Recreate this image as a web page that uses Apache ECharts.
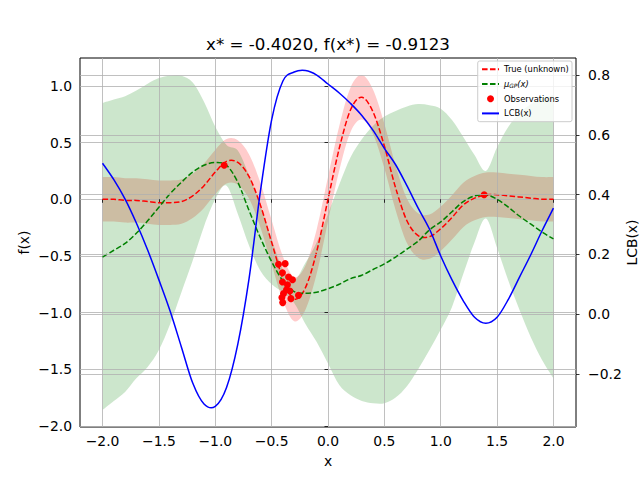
<!DOCTYPE html>
<html><head><meta charset="utf-8">
<script src="https://cdn.jsdelivr.net/npm/echarts@6/dist/echarts.min.js"></script>
<style>html,body{margin:0;padding:0;background:#fff}#c{width:640px;height:480px}</style>
</head><body><div id="c"></div>
<script>
// ---- data ----
const X = [-2.0,-1.9,-1.8,-1.7,-1.6,-1.5,-1.4,-1.3,-1.2,-1.1,-1.0,-0.9,-0.8,-0.7,-0.6,-0.5,-0.4,-0.3,-0.2,-0.1,0.0,
           0.1,0.2,0.3,0.4,0.5,0.6,0.7,0.8,0.9,1.0,1.1,1.2,1.3,1.4,1.5,1.6,1.7,1.8,1.9,2.0];
const TRUE_F = [0.00,0.00,-0.01,-0.01,-0.02,-0.03,-0.03,-0.02,0.03,0.12,0.24,0.335,0.325,0.20,-0.05,-0.38,-0.70,-0.88,-0.78,-0.46,0.00,
                0.45,0.79,0.90,0.77,0.47,0.10,-0.19,-0.32,-0.33,-0.26,-0.16,-0.05,0.01,0.04,0.04,0.03,0.02,0.01,0.00,0.00];
const NOISE_BAND = 0.196;
const MU = [-0.51,-0.45,-0.39,-0.30,-0.19,-0.07,0.05,0.15,0.24,0.30,0.325,0.30,0.15,-0.10,-0.34,-0.55,-0.72,-0.815,-0.83,-0.82,-0.79,
            -0.75,-0.70,-0.67,-0.62,-0.57,-0.51,-0.44,-0.37,-0.27,-0.20,-0.11,-0.02,0.03,0.04,0.00,-0.07,-0.15,-0.22,-0.29,-0.35];
const GP_UPPER = [0.85,0.88,0.91,0.96,1.02,1.07,1.09,1.09,1.03,0.86,0.64,0.48,0.43,0.21,-0.05,-0.35,-0.62,-0.715,-0.56,-0.38,-0.13,
                  0.13,0.37,0.53,0.65,0.73,0.78,0.82,0.84,0.83,0.80,0.70,0.55,0.39,0.25,0.46,0.64,0.76,0.84,0.89,0.92];
const GP_LOWER = [-1.86,-1.78,-1.70,-1.58,-1.48,-1.33,-1.10,-0.82,-0.54,-0.24,0.00,0.12,-0.13,-0.41,-0.63,-0.75,-0.82,-0.915,-1.10,-1.26,-1.45,
                  -1.64,-1.73,-1.78,-1.80,-1.80,-1.75,-1.65,-1.50,-1.33,-1.15,-0.95,-0.66,-0.38,-0.17,-0.43,-0.72,-0.98,-1.22,-1.42,-1.58];
const LCB = [0.505,0.45,0.385,0.305,0.215,0.115,0.01,-0.11,-0.23,-0.30,-0.308,-0.245,-0.10,0.12,0.41,0.65,0.78,0.81,0.815,0.80,0.77,
             0.74,0.705,0.665,0.615,0.555,0.50,0.43,0.355,0.285,0.195,0.115,0.045,-0.01,-0.03,-0.01,0.05,0.125,0.20,0.28,0.355];
const OBS_X = [-0.921,1.385,-0.439,-0.380,-0.404,-0.350,-0.315,-0.404,-0.360,-0.368,-0.338,-0.395,-0.262,-0.409,-0.329,-0.402];
const OBS_Y = [0.30,0.04,-0.574,-0.568,-0.648,-0.686,-0.710,-0.730,-0.754,-0.798,-0.810,-0.833,-0.848,-0.868,-0.877,-0.912];
const X_TICKS = [-2.0,-1.5,-1.0,-0.5,0.0,0.5,1.0,1.5,2.0];
const F_TICKS = [-2.0,-1.5,-1.0,-0.5,0.0,0.5,1.0];
const LCB_TICKS = [-0.2,0.0,0.2,0.4,0.6,0.8];
const TITLE = 'x* = -0.4020, f(x*) = -0.9123';
const X_NAME = 'x', F_NAME = 'f(x)', LCB_NAME = 'LCB(x)';

// ---- chart ----
const FONT = 'DejaVu Sans';
const DASH = [5.55, 2.4];
const pair = (xs, ys) => xs.map((x, i) => [x, ys[i]]);
const fmt = v => (Math.abs(v) < 1e-9 ? 0 : v).toFixed(1).replace('-', '\u2212');
const tickStyle = {show: true, length: 3.5, lineStyle: {color: '#000', width: 0.8}};
const labelStyle = {fontFamily: FONT, fontSize: 13.9, color: '#000'};
const gridLine = {show: true, lineStyle: {color: '#b0b0b0', width: 0.8}};

// Catmull-Rom spline through pixel points -> cubic bezier path segments
function crSegs(pts, start) {
  let d = start + pts[0][0].toFixed(2) + ',' + pts[0][1].toFixed(2);
  for (let i = 0; i < pts.length - 1; i++) {
    const p0 = pts[i - 1] || pts[i], p1 = pts[i], p2 = pts[i + 1], p3 = pts[i + 2] || pts[i + 1];
    const c1x = p1[0] + (p2[0] - p0[0]) / 6, c1y = p1[1] + (p2[1] - p0[1]) / 6;
    const c2x = p2[0] - (p3[0] - p1[0]) / 6, c2y = p2[1] - (p3[1] - p1[1]) / 6;
    d += 'C' + c1x.toFixed(2) + ',' + c1y.toFixed(2) + ',' + c2x.toFixed(2) + ',' + c2y.toFixed(2) + ',' + p2[0].toFixed(2) + ',' + p2[1].toFixed(2);
  }
  return d;
}
function curveSeries(xs, ys, style, z, yAxisIndex) {
  return {
    type: 'custom', coordinateSystem: 'cartesian2d', yAxisIndex: yAxisIndex || 0, z: z, silent: true,
    data: [[0, 0]],
    renderItem: (params, api) => {
      const pts = xs.map((x, i) => api.coord([x, ys[i]]));
      return {type: 'path', shape: {pathData: crSegs(pts, 'M')}, style: Object.assign({fill: null}, style)};
    }
  };
}
function bandSeries(xs, lo, hi, color, z) {
  return {
    type: 'custom', coordinateSystem: 'cartesian2d', z: z, silent: true,
    data: [[0, 0]],
    renderItem: (params, api) => {
      const up = xs.map((x, i) => api.coord([x, hi[i]]));
      const dn = xs.map((x, i) => api.coord([x, lo[i]])).reverse();
      const d = crSegs(up, 'M') + crSegs(dn, 'L') + 'Z';
      return {type: 'path', shape: {pathData: d}, style: {fill: color, stroke: null}};
    }
  };
}
function legendLine(name, color, dashed) {
  return {name: name, type: 'line', data: [], symbol: 'none', itemStyle: {color: color, opacity: 0},
          lineStyle: {color: color, width: 1.5, type: dashed ? DASH : 'solid', opacity: 1}};
}
function textEl(text, x, y, size, rot) {
  return {type: 'text', x: x, y: y, rotation: rot || 0, z: 10,
          style: {text: text, fontFamily: FONT, fontSize: size, fill: '#000',
                  align: 'center', verticalAlign: 'middle', textAlign: 'center', textVerticalAlign: 'middle'}};
}

const chart = echarts.init(document.getElementById('c'), null, {renderer: 'svg'});
const option = {
  animation: false,
  grid: {left: 80, right: 64, top: 58, bottom: 53, show: true, borderColor: '#000', borderWidth: 1,
         backgroundColor: 'transparent', containLabel: false, outerBoundsMode: 'none'},
  xAxis: {
    type: 'value', min: -2.2, max: 2.2, z: 1.5,
    name: X_NAME, nameLocation: 'middle', nameGap: 27, nameTextStyle: labelStyle,
    axisLine: {show: false},
    axisTick: Object.assign({customValues: X_TICKS}, tickStyle),
    axisLabel: Object.assign({customValues: X_TICKS, formatter: fmt, margin: 7}, labelStyle),
    splitLine: gridLine
  },
  yAxis: [{
    type: 'value', min: -2.01, max: 1.247, z: 1.5, position: 'left',
    axisLine: {show: false},
    axisTick: Object.assign({customValues: F_TICKS}, tickStyle),
    axisLabel: Object.assign({customValues: F_TICKS, formatter: fmt, margin: 8}, labelStyle),
    splitLine: gridLine
  }, {
    type: 'value', min: -0.377, max: 0.857, z: 3, position: 'right',
    axisLine: {show: false},
    axisTick: Object.assign({customValues: LCB_TICKS}, tickStyle),
    axisLabel: Object.assign({customValues: LCB_TICKS, formatter: fmt, margin: 12}, labelStyle),
    splitLine: gridLine
  }],
  legend: {
    data: [
      {name: 'True (unknown)', itemStyle: {opacity: 0}},
      {name: 'muGP', itemStyle: {opacity: 0}},
      {name: 'Observations'},
      {name: 'LCB(x)', itemStyle: {opacity: 0}}
    ],
    orient: 'vertical', right: 68, top: 61, align: 'left',
    padding: [3.3, 3.3, 3.3, 3.3], itemWidth: 17, itemHeight: 7, itemGap: 4.7,
    backgroundColor: 'rgba(255,255,255,0.8)', borderColor: '#cccccc', borderWidth: 1, borderRadius: 2, z: 10,
    textStyle: {fontFamily: FONT, fontSize: 8.33, color: '#000', lineHeight: 10,
      rich: {
        i: {fontFamily: FONT, fontSize: 8.33, fontStyle: 'italic', color: '#000', lineHeight: 10},
        s: {fontFamily: FONT, fontSize: 5.8, fontStyle: 'italic', color: '#000', verticalAlign: 'bottom', lineHeight: 10, padding: [3, 0, 0, 0]}
      }},
    formatter: n => n === 'muGP' ? '{i|\u03bc}{s|GP}{i|(x)}' : n
  },
  graphic: [
    textEl(TITLE, 328, 44, 16.7, 0),
    textEl(F_NAME, 24, 242.5, 13.9, Math.PI / 2),
    textEl(LCB_NAME, 632, 242.5, 13.9, Math.PI / 2)
  ],
  series: [
    bandSeries(X, TRUE_F.map(v => v - NOISE_BAND), TRUE_F.map(v => v + NOISE_BAND), 'rgba(255,0,0,0.2)', 1),
    bandSeries(X, GP_LOWER, GP_UPPER, 'rgba(0,128,0,0.2)', 1.1),
    curveSeries(X, TRUE_F, {stroke: '#ff0000', lineWidth: 1.5, lineDash: DASH, lineCap: 'butt'}, 2),
    curveSeries(X, MU, {stroke: '#008000', lineWidth: 1.5, lineDash: DASH, lineCap: 'butt'}, 2),
    {name: 'Observations', type: 'scatter', data: pair(OBS_X, OBS_Y), symbol: 'circle', symbolSize: 7, z: 2.5,
     itemStyle: {color: '#ff0000', opacity: 1}},
    curveSeries(X, LCB, {stroke: '#0000ff', lineWidth: 1.5}, 3.5, 1),
    legendLine('True (unknown)', '#ff0000', true),
    legendLine('muGP', '#008000', true),
    legendLine('LCB(x)', '#0000ff', false)
  ]
};
chart.setOption(option);
</script>
</body></html>
